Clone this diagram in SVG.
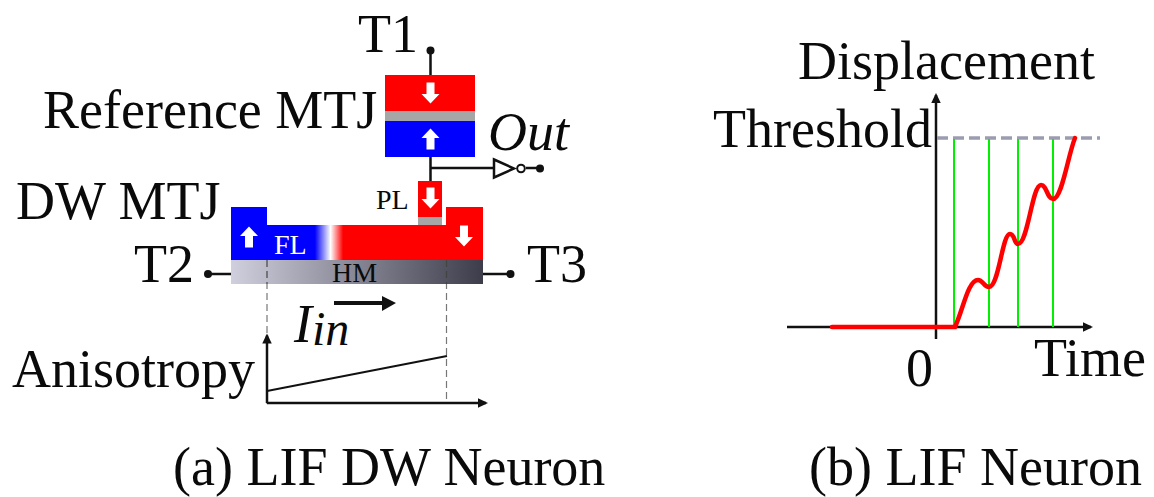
<svg xmlns="http://www.w3.org/2000/svg" width="1154" height="497" viewBox="0 0 1154 497">
<style>
text{font-family:"Liberation Serif","Times New Roman",serif;fill:#0a0a0a}
.l{font-size:54px}
.s{font-size:28px}
.w{stroke:#111;stroke-width:2.5;fill:none}
.d{fill:#111}
.dash{stroke:#777;stroke-width:1.2;stroke-dasharray:7 4;fill:none}
.ax{stroke:#111;stroke-width:2.5;fill:none}
.g{stroke:#00f000;stroke-width:2;fill:none}
.wa{fill:#fff}
</style>
<defs>
<linearGradient id="fl" gradientUnits="userSpaceOnUse" x1="231" x2="483" y1="0" y2="0">
<stop offset="0.333" stop-color="#00f"/><stop offset="0.395" stop-color="#fff"/><stop offset="0.445" stop-color="#f00"/>
</linearGradient>
<linearGradient id="hm" gradientUnits="userSpaceOnUse" x1="231" x2="483" y1="0" y2="0">
<stop offset="0" stop-color="#cfcfdd"/><stop offset="1" stop-color="#3c3c4a"/>
</linearGradient>
<path id="up" d="M0-10.500L9-1H4V10.500H-4V-1H-9Z"/>
<marker id="ah" markerWidth="5" markerHeight="5" refX="3.200" refY="1.900" orient="auto" markerUnits="strokeWidth"><path d="M0 0L4 1.900L0 3.800Z" fill="#111"/></marker>
</defs>

<g id="connectors">
<path class="w" d="M430.500 50V75M430.500 157V181M430.500 168H494M526 168H540M208 274H231M483 274H510"/>
<path class="dash" d="M267 260V404M446.500 260V404"/>
<path class="ax" d="M267 403V335.500" marker-end="url(#ah)"/>
<path class="ax" d="M267 403H486" marker-end="url(#ah)"/>
<path d="M267 391L447 356" stroke="#111" stroke-width="1.800" fill="none"/>
<path d="M334 303H382" stroke="#111" stroke-width="4" fill="none"/>
<path d="M382 296L396 303L382 311Z" fill="#111"/>
<circle class="d" cx="430.500" cy="50.500" r="4"/>
<circle class="d" cx="540" cy="168.500" r="4"/>
<circle class="d" cx="208" cy="274" r="4"/>
<circle class="d" cx="510.500" cy="274" r="4"/>
</g>

<g id="t1"><text class="l" x="358" y="52">T1</text></g>
<g id="ref-label"><text class="l" x="43" y="128">Reference MTJ</text></g>
<g id="out"><text class="l" x="488" y="150" font-style="italic">Out</text></g>
<g id="dw-label"><text class="l" x="16" y="219">DW MTJ</text></g>
<g id="t2"><text class="l" x="134" y="282">T2</text></g>
<g id="t3"><text class="l" x="527" y="282">T3</text></g>

<g id="reference-mtj">
<rect x="385" y="75" width="90" height="36" fill="#f00"/>
<rect x="385" y="111" width="90" height="10" fill="#a6a6a6"/>
<rect x="385" y="121" width="90" height="36" fill="#00f"/>
<use href="#up" class="wa" transform="translate(430.500 93) rotate(180)"/>
<use href="#up" class="wa" transform="translate(430.500 139)"/>
</g>

<g id="inverter">
<path d="M494 159.500L514 168.500L494 177.500Z" fill="#fff" stroke="#111" stroke-width="2.500"/>
<circle cx="521" cy="168.500" r="3.800" fill="#fff" stroke="#111" stroke-width="2"/>
</g>

<g id="pl">
<rect x="418" y="181" width="24" height="36" fill="#f00"/>
<rect x="418" y="217" width="24" height="8" fill="#a6a6a6"/>
<use href="#up" class="wa" transform="translate(430.500 198) rotate(180)"/>
<text x="376" y="209" class="s">PL</text>
</g>

<g id="fl-layer">
<path d="M231 207H267V225H446V207H483V260H231Z" fill="url(#fl)"/>
<use href="#up" class="wa" transform="translate(249 237)"/>
<use href="#up" class="wa" transform="translate(464 236) rotate(180)"/>
<text x="274" y="254" class="s" style="fill:#fff">FL</text>
</g>

<g id="hm-layer">
<rect x="231" y="260" width="252" height="24" fill="url(#hm)"/>
<path class="dash" d="M267 260V284M446.500 260V284" style="stroke:#444"/>
<text x="332" y="282" class="s">HM</text>
</g>

<g id="iin"><text x="294" y="342" class="l" font-style="italic">I<tspan style="font-size:48px" dy="3">in</tspan></text></g>
<g id="anisotropy"><text class="l" x="12" y="387">Anisotropy</text></g>
<g id="caption-a"><text x="173" y="485" class="l">(a) LIF DW Neuron</text></g>

<g id="plot-b">
<path class="ax" d="M936 339V95" marker-end="url(#ah)"/>
<path class="ax" d="M787 327H1091" marker-end="url(#ah)"/>
<path d="M937 138H1100" stroke="#9c9cb0" stroke-width="3.500" stroke-dasharray="11 5" fill="none"/>
<path class="g" d="M954 139V327M989 139V327M1018 139V327M1053 139V327"/>
<path d="M832 327H955C963 310 968 280 978 280C983 280 984 287 989 287C999 287 1002 234 1010 234C1015 234 1014 244 1018 244C1028 244 1032 185 1041 185C1047 185 1047 199 1053 199C1062 199 1068 155 1075 138" fill="none" stroke="#f00" stroke-width="4.500" stroke-linecap="round"/>
</g>
<g id="displacement"><text class="l" x="798" y="79">Displacement</text></g>
<g id="threshold"><text class="l" x="713" y="147">Threshold</text></g>
<g id="zero"><text class="l" x="906" y="386">0</text></g>
<g id="time"><text class="l" x="1034" y="376">Time</text></g>
<g id="caption-b"><text x="809" y="485" class="l">(b) LIF Neuron</text></g>
</svg>
